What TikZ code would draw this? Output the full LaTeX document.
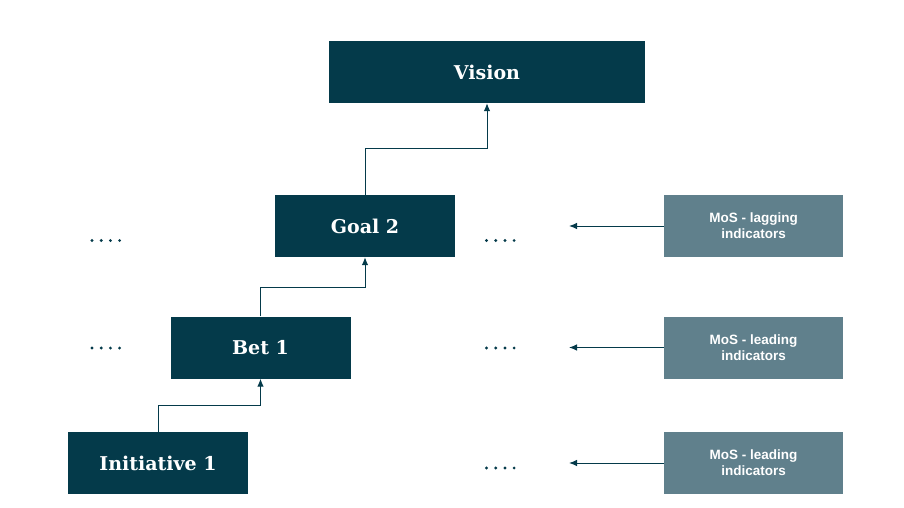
\documentclass[tikz,border=0pt]{standalone}
\usepackage{fontspec}
\setmainfont{DejaVu Serif}
\newfontfamily\mosfont{Liberation Sans}
\usetikzlibrary{arrows.meta}
\definecolor{darkteal}{HTML}{043A4A}
\definecolor{mosgray}{HTML}{60808C}
\tikzset{
  mainbox/.style={fill=darkteal, draw=none, text=white, font=\fontsize{19}{22}\selectfont\bfseries, minimum width=180pt, minimum height=62pt, inner sep=0pt},
  mosbox/.style={fill=mosgray, draw=none, text=white, font=\mosfont\fontsize{13.5}{16}\selectfont\bfseries, align=center, minimum width=179pt, minimum height=62pt, inner sep=0pt},
  conn/.style={draw=darkteal, line width=1pt, -{Latex[length=8pt,width=6.5pt]}},
  dotc/.style={fill=darkteal, draw=none, circle, inner sep=0pt, minimum size=3.2pt}
}
\begin{document}
\begin{tikzpicture}[x=1pt,y=-1pt]
\useasboundingbox (0,0) rectangle (904,508);
\node[mainbox, minimum width=316pt] (vision) at (487,72) {Vision};
\node[mainbox] (goal) at (365,226) {Goal 2};
\node[mainbox] (bet) at (260.5,347.5) {Bet 1};
\node[mainbox] (init) at (158,463) {Initiative 1};
\node[mosbox] (mos1) at (753.5,226) {MoS - lagging\\indicators};
\node[mosbox] (mos2) at (753.5,347.5) {MoS - leading\\indicators};
\node[mosbox] (mos3) at (753.5,463) {MoS - leading\\indicators};
\coordinate (a1) at (569,226);
\coordinate (a2) at (569,347.5);
\coordinate (a3) at (569,463);
\draw[conn] (mos1.west) -- (a1);
\draw[conn] (mos2.west) -- (a2);
\draw[conn] (mos3.west) -- (a3);
\draw[conn] (init.north) -- ++(0,-26.5) -| (bet.south);
\draw[conn] (bet.north) -- ++(0,-29) -| (goal.south);
\draw[conn] (goal.north) -- ++(0,-46) -| (vision.south);
\foreach \cx/\cy [count=\i] in {92/240.5, 486.5/240.5, 92/348, 486.5/348, 486.5/468}{
  \foreach \k in {0,1,2,3}{
    \node[dotc] (dot\i-\k) at (\cx+\k*9.2,\cy) {};
  }
}
\end{tikzpicture}
\end{document}
